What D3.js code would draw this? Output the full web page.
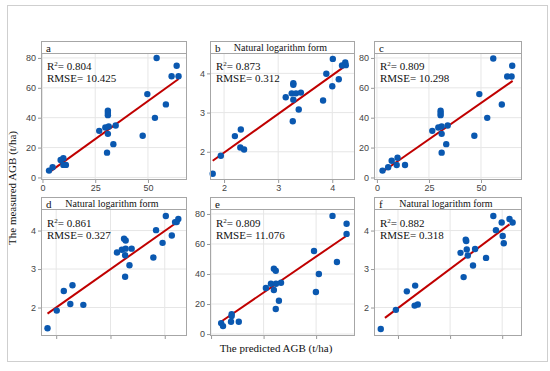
<!DOCTYPE html>
<html>
<head>
<meta charset="utf-8">
<script src="https://cdn.jsdelivr.net/npm/d3@7"></script>
<style>
  body { margin: 0; background: #fff; }
  .tick text { font-family: "Liberation Sans", Arial, sans-serif; font-size: 9px; fill: #444; }
  .tick line { stroke: #999; }
  .serif { font-family: "Liberation Serif", "Times New Roman", serif; fill: #111; }
</style>
</head>
<body>
<div id="container"></div>
<script>
// measured vs predicted AGB
const aPred = [54.1, 63.6, 61.2, 64.5, 49.7, 58.5, 53.3, 47.5, 31.0, 31.0, 31.0, 26.9, 29.8, 31.4, 34.7, 31.0, 33.6, 30.6, 9.9, 8.6, 11.1, 9.9, 4.8, 3.1];
const aMeas = [80.0, 74.8, 67.7, 67.7, 55.8, 48.9, 39.9, 27.9, 44.6, 43.1, 41.7, 31.2, 33.4, 34.1, 34.8, 29.2, 22.3, 16.6, 12.9, 11.7, 8.4, 8.4, 6.8, 4.6];

const bPred = [4.01, 4.24, 4.25, 4.18, 3.89, 4.12, 4.00, 3.83, 3.28, 3.28, 3.14, 3.25, 3.33, 3.42, 3.28, 3.38, 3.27, 2.31, 2.20, 2.30, 2.37, 1.94, 1.79];
const bMeas = [4.37, 4.28, 4.21, 4.20, 3.99, 3.85, 3.67, 3.31, 3.75, 3.71, 3.39, 3.49, 3.49, 3.51, 3.33, 3.08, 2.78, 2.57, 2.40, 2.11, 2.06, 1.90, 1.44];

const cPred = [55.9, 65.0, 62.6, 64.7, 49.2, 60.0, 53.0, 46.8, 30.6, 30.6, 30.6, 26.6, 29.5, 31.1, 34.0, 31.1, 33.3, 31.1, 9.9, 7.1, 9.5, 13.5, 5.4, 2.7];
const cMeas = [79.6, 74.8, 67.6, 67.6, 55.8, 48.8, 39.9, 27.9, 44.6, 43.1, 41.7, 31.2, 33.4, 34.1, 34.8, 29.2, 22.3, 16.6, 13.2, 11.2, 8.3, 8.3, 6.8, 4.6];

const dPred = [4.02, 4.25, 4.22, 4.19, 3.84, 4.13, 3.96, 3.79, 3.25, 3.28, 3.12, 3.21, 3.28, 3.39, 3.27, 3.35, 3.27, 2.30, 2.14, 2.26, 2.50, 2.01, 1.84];
const dMeas = [4.38, 4.30, 4.22, 4.22, 4.01, 3.87, 3.68, 3.30, 3.79, 3.74, 3.43, 3.50, 3.53, 3.53, 3.36, 3.10, 2.80, 2.58, 2.43, 2.09, 2.07, 1.92, 1.46];

const ePred = [57.8, 64.5, 64.5, 49.0, 59.9, 51.3, 49.9, 29.9, 30.8, 26.1, 28.5, 30.9, 33.3, 29.9, 32.3, 30.8, 4.8, 5.7, 9.8, 9.8, 9.5, 13.2];
const eMeas = [78.7, 73.5, 66.7, 55.3, 48.0, 40.0, 28.0, 43.5, 42.2, 30.7, 33.5, 33.5, 34.2, 29.3, 22.2, 16.7, 7.3, 5.3, 13.3, 12.0, 8.2, 8.2];

const fPred = [3.83, 4.14, 4.20, 3.99, 3.88, 4.01, 4.03, 3.69, 3.30, 3.31, 3.20, 3.32, 3.34, 3.48, 3.44, 3.26, 2.33, 2.17, 2.38, 2.32, 1.96, 1.67];
const fMeas = [4.38, 4.30, 4.21, 4.21, 4.01, 3.86, 3.67, 3.29, 3.76, 3.73, 3.42, 3.51, 3.35, 3.52, 3.09, 2.79, 2.57, 2.42, 2.08, 2.05, 1.94, 1.44];

// fitted line end points [pred, meas]
const aFit = [[3.6, 3.9], [64.5, 65.9]];
const bFit = [[1.79, 1.77], [4.21, 4.16]];
const cFit = [[2.7, 3.8], [65.2, 64.6]];
const dFit = [[1.84, 1.84], [4.22, 4.21]];
const eFit = [[4.0, 7.5], [64.5, 65.5]];
const fFit = [[1.75, 1.73], [4.14, 4.16]];

const panelLetters = ["a", "b", "c", "d", "e", "f"];
const r2Values = ["0.804", "0.873", "0.809", "0.861", "0.809", "0.882"];
const rmseValues = ["10.425", "0.312", "10.298", "0.327", "11.076", "0.318"];
const agbTicks = [0, 20, 40, 60, 80];
const predTicks = [0, 25, 50];
const logTicks = [2, 3, 4];

const preds = [aPred, bPred, cPred, dPred, ePred, fPred];
const meas = [aMeas, bMeas, cMeas, dMeas, eMeas, fMeas];
const fits = [aFit, bFit, cFit, dFit, eFit, fFit];

// layout
const colX = [41, 210, 374], colW = [146, 145, 148];
const rowY = [41, 197];
const stripH = 12, plotH = 127;
const xDomains = [[-0.7, 68.5], [1.74, 4.42], [-1.4, 69.7], [1.72, 4.41], [-0.5, 68.5], [1.54, 4.38]];
const yDomains = [[-1.7, 83.3], [1.28, 4.52], [-1.7, 83.3], [1.26, 4.56], [-1.3, 83.3], [1.26, 4.56]];

const svg = d3.select("#container")
  .append("svg")
  .attr("width", 550)
  .attr("height", 371);

svg.append("rect").attr("width", 550).attr("height", 371).attr("fill", "#fff");
svg.append("rect")
  .attr("x", 7.5).attr("y", 5.5).attr("width", 540).attr("height", 356)
  .attr("fill", "none").attr("stroke", "#cfcfcf");

panelLetters.forEach((letter, i) => {
  const row = Math.floor(i / 3), col = i % 3;
  const isLog = i % 2 === 1;
  const left = colX[col], w = colW[col];
  const top = rowY[row] + stripH;

  const x = d3.scaleLinear().domain(xDomains[i]).range([left, left + w]);
  const y = d3.scaleLinear().domain(yDomains[i]).range([top + plotH, top]);

  const xt = isLog ? logTicks : predTicks;
  const yt = isLog ? logTicks : agbTicks;

  const g = svg.append("g");

  // grid
  g.selectAll(".gx").data(xt).join("line")
    .attr("x1", d => x(d)).attr("x2", d => x(d))
    .attr("y1", top).attr("y2", top + plotH)
    .attr("stroke", "#e6e6e6");
  g.selectAll(".gy").data(yt).join("line")
    .attr("x1", left).attr("x2", left + w)
    .attr("y1", d => y(d)).attr("y2", d => y(d))
    .attr("stroke", "#e6e6e6");

  // axes
  const ya = g.append("g")
    .attr("transform", `translate(${left},0)`)
    .call(d3.axisLeft(y).tickValues(yt).tickSize(3).tickPadding(2).tickFormat(d3.format("d")));
  ya.select(".domain").remove();

  const xa = g.append("g")
    .attr("transform", `translate(0,${top + plotH})`)
    .call(d3.axisBottom(x).tickValues(xt).tickSize(3).tickPadding(2)
      .tickFormat(row === 0 ? d3.format("d") : ""));
  xa.select(".domain").remove();

  // fit line
  g.append("path")
    .datum(fits[i])
    .attr("fill", "none")
    .attr("stroke", "#c00000")
    .attr("stroke-width", 2)
    .attr("d", d3.line().x(d => x(d[0])).y(d => y(d[1])));

  // points
  g.selectAll("circle").data(preds[i].map((p, k) => [p, meas[i][k]])).join("circle")
    .attr("cx", d => x(d[0]))
    .attr("cy", d => y(d[1]))
    .attr("r", 3.2)
    .attr("fill", "#0a58b0");

  // frame
  g.append("rect")
    .attr("x", left + 0.5).attr("y", top + 0.5)
    .attr("width", w - 1).attr("height", plotH - 1)
    .attr("fill", "none").attr("stroke", "#a6a6a6");

  // strip
  g.append("rect")
    .attr("x", left + 0.5).attr("y", rowY[row] + 0.5)
    .attr("width", w - 1).attr("height", stripH)
    .attr("fill", "#fff").attr("stroke", "#a6a6a6");
  g.append("text").attr("class", "serif")
    .attr("x", left + 5).attr("y", rowY[row] + stripH - 1.5)
    .style("font-size", "11px")
    .text(letter);
  if (isLog) {
    g.append("text").attr("class", "serif")
      .attr("x", left + w / 2 - 2).attr("y", rowY[row] + stripH - 2)
      .attr("text-anchor", "middle")
      .style("font-size", "10px")
      .text("Natural logarithm form");
  }

  // stats
  const st = g.append("text").attr("class", "serif")
    .attr("x", left + 6).attr("y", top + 17 + row)
    .style("font-size", "11px");
  st.append("tspan").text("R");
  st.append("tspan").attr("dy", -4).style("font-size", "7px").text("2");
  st.append("tspan").attr("dy", 4).text("= " + r2Values[i]);
  g.append("text").attr("class", "serif")
    .attr("x", left + 6).attr("y", top + 29 + row)
    .style("font-size", "11px")
    .text("RMSE= " + rmseValues[i]);
});

svg.append("text").attr("class", "serif")
  .attr("transform", "translate(16,188) rotate(-90)")
  .attr("text-anchor", "middle")
  .style("font-size", "11px")
  .text("The measured AGB (t/ha)");

svg.append("text").attr("class", "serif")
  .attr("x", 276).attr("y", 352)
  .attr("text-anchor", "middle")
  .style("font-size", "11px")
  .text("The predicted AGB (t/ha)");
</script>
</body>
</html>
